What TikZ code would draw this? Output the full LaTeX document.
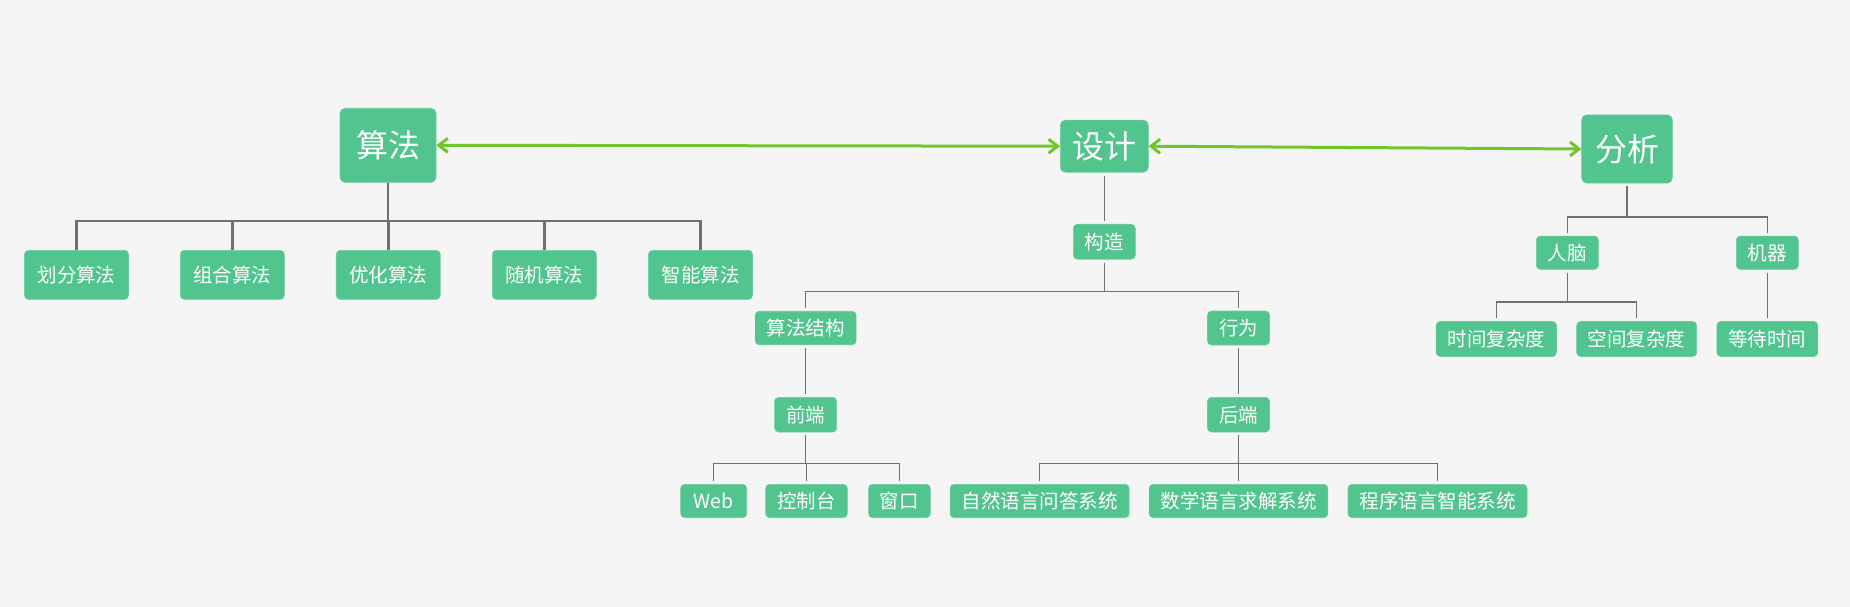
\documentclass[tikz,border=0pt]{standalone}
\usepackage{fontspec}
\setmainfont{Noto Sans CJK SC}
\usetikzlibrary{arrows.meta}
\definecolor{bgc}{HTML}{F5F5F5}
\definecolor{nodegreen}{HTML}{52C48D}
\definecolor{arrowgreen}{HTML}{70C62C}
\definecolor{linegray}{HTML}{707070}
\tikzset{
  box/.style={fill=nodegreen, draw=nodegreen!85!white, line width=0.6pt, rounded corners=4pt, text=white, inner sep=0pt,
    font=\fontsize{19.5}{21}\selectfont},
  bigbox/.style={box, rounded corners=5pt, font=\fontsize{32}{34}\selectfont},
  thickconn/.style={draw=linegray, line width=2.7pt},
  thinconn/.style={draw=linegray, line width=1.4pt, shorten <=3pt, shorten >=3pt},
  biarrow/.style={draw=arrowgreen, line width=3pt,
    arrows={Straight Barb[length=9pt,width=14pt]-Straight Barb[length=9pt,width=14pt]}}
}
\begin{document}
\begin{tikzpicture}[x=1pt,y=-1pt]
\fill[bgc] (0,0) rectangle (1850,607);
\useasboundingbox (0,0) rectangle (1850,607);

% top level
\node[bigbox, minimum width=96pt, minimum height=74pt] (suanfa) at (388,145.3) {算法};
\node[bigbox, minimum width=88pt, minimum height=52pt] (sheji) at (1104.3,146.2) {设计};
\node[bigbox, minimum width=90.6pt, minimum height=68.3pt] (fenxi) at (1627,149) {分析};

% algorithm children
\node[box, minimum width=104pt, minimum height=49pt] (hf) at (76.5,274.8) {划分算法};
\node[box, minimum width=104pt, minimum height=49pt] (zh) at (232.3,274.8) {组合算法};
\node[box, minimum width=104pt, minimum height=49pt] (yh) at (388.2,274.8) {优化算法};
\node[box, minimum width=104pt, minimum height=49pt] (sj) at (544.3,274.8) {随机算法};
\node[box, minimum width=104pt, minimum height=49pt] (zn) at (700.5,274.8) {智能算法};

% design subtree
\node[box, minimum width=62pt, minimum height=35pt] (gz) at (1104.3,241.7) {构造};
\node[box, minimum width=101pt, minimum height=33.5pt] (sfjg) at (805.6,328) {算法结构};
\node[box, minimum width=62pt, minimum height=34pt] (xw) at (1238.5,328) {行为};
\node[box, minimum width=62pt, minimum height=34.7pt] (qd) at (805.6,414.7) {前端};
\node[box, minimum width=62pt, minimum height=34.7pt] (hd) at (1238.5,414.7) {后端};
\node[box, minimum width=66pt, minimum height=33.4pt] (web) at (713.7,501) {Web};
\node[box, minimum width=81.6pt, minimum height=33.4pt] (kzt) at (806.5,501) {控制台};
\node[box, minimum width=61.7pt, minimum height=33.4pt] (ck) at (899.4,501) {窗口};
\node[box, minimum width=179pt, minimum height=33.4pt] (zr) at (1039.6,501) {自然语言问答系统};
\node[box, minimum width=178.7pt, minimum height=33.4pt] (sx) at (1238.5,501) {数学语言求解系统};
\node[box, minimum width=179pt, minimum height=33.4pt] (cx) at (1437.5,501) {程序语言智能系统};

% analysis subtree
\node[box, minimum width=62pt, minimum height=33.3pt] (rn) at (1567.3,252.7) {人脑};
\node[box, minimum width=62pt, minimum height=33.3pt] (jq) at (1767.3,252.7) {机器};
\node[box, minimum width=120.3pt, minimum height=35pt] (sjfz) at (1496.3,339) {时间复杂度};
\node[box, minimum width=120pt, minimum height=35pt] (kjfz) at (1636.7,339) {空间复杂度};
\node[box, minimum width=101pt, minimum height=35pt] (ddsj) at (1767.3,339) {等待时间};

% arrows
\draw[biarrow] (suanfa.east) -- (sheji.west);
\draw[biarrow] (sheji.east) -- (fenxi.west);

% algorithm tree (thick)
\foreach \c in {hf,zh,yh,sj,zn}
  \draw[thickconn] (suanfa.south) -- ++(0,38.4) -| (\c.north);

% design tree
\draw[thinconn] (sheji.south) -- (gz.north);
\foreach \c in {sfjg,xw}
  \draw[thinconn] (gz.south) -- ++(0,31.7) -| (\c.north);
\draw[thinconn] (sfjg.south) -- (qd.north);
\draw[thinconn] (xw.south) -- (hd.north);
\foreach \c in {web,kzt,ck}
  \draw[thinconn] (qd.south) -- ++(0,31.3) -| (\c.north);
\foreach \c in {zr,sx,cx}
  \draw[thinconn] (hd.south) -- ++(0,31.3) -| (\c.north);

% analysis tree
\foreach \c in {rn,jq}
  \draw[thinconn] (fenxi.south) -- ++(0,33.4) -| (\c.north);
\foreach \c in {sjfz,kjfz}
  \draw[thinconn] (rn.south) -- ++(0,32.4) -| (\c.north);
\draw[thinconn] (jq.south) -- (ddsj.north);
\end{tikzpicture}
\end{document}
